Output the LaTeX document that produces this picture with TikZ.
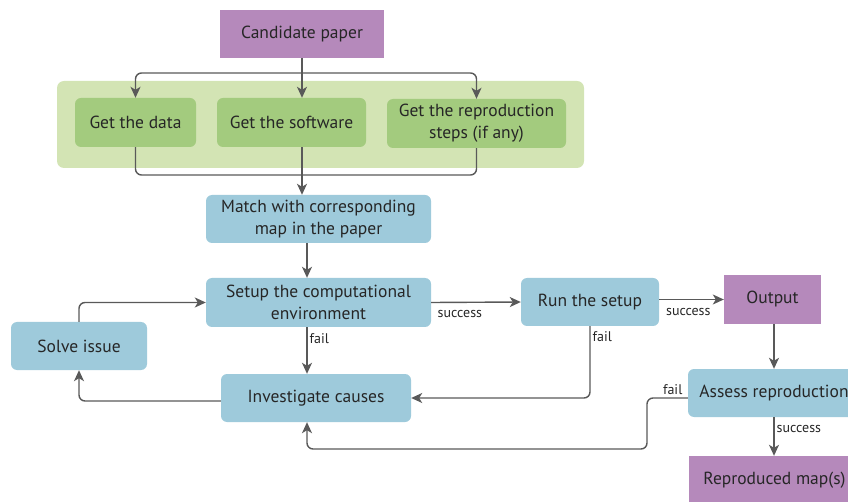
\documentclass[tikz,border=0pt]{standalone}
\usepackage{fontspec}
\setmainfont{PT Sans}
\usetikzlibrary{arrows.meta,calc}
\definecolor{purp}{HTML}{B589BB}
\definecolor{bggreen}{HTML}{D3E4B4}
\definecolor{boxgreen}{HTML}{A3CB7E}
\definecolor{boxblue}{HTML}{9ECADB}
\definecolor{linegray}{HTML}{595959}
\tikzset{
  base/.style={inner sep=0pt, align=center, font=\fontsize{17.5}{22}\selectfont, text=black!85},
  purpbox/.style={base, fill=purp},
  greenbox/.style={base, fill=boxgreen, rounded corners=6pt},
  bluebox/.style={base, fill=boxblue, rounded corners=6pt},
  conn/.style={draw=linegray, line width=1.4pt, rounded corners=6pt},
  arr/.style={conn, -{Stealth[length=11pt,width=10pt,inset=3pt]}},
  lbl/.style={font=\fontsize{14}{16}\selectfont, text=black!85, inner sep=2pt},
}
\begin{document}
\begin{tikzpicture}[x=1pt,y=-1pt]
\useasboundingbox (0,0) rectangle (848,502);
\fill[bggreen, rounded corners=7pt] (57,81) rectangle (584,168);
\node[purpbox, minimum width=164pt, minimum height=48pt] (cand) at (302,34) {Candidate paper};
\node[greenbox, minimum width=121pt, minimum height=49pt] (data) at (135.5,122.5) {Get the data};
\node[greenbox, minimum width=149pt, minimum height=49pt] (soft) at (291.5,122.5) {Get the software};
\node[greenbox, minimum width=179pt, minimum height=49pt] (repro) at (476.5,123.5) {Get the reproduction\\steps (if any)};
\node[bluebox, minimum width=225pt, minimum height=48pt] (match) at (318.5,219) {Match with corresponding\\map in the paper};
\node[bluebox, minimum width=225pt, minimum height=49pt] (setup) at (318.5,302.5) {Setup the computational\\environment};
\node[bluebox, minimum width=136pt, minimum height=48pt] (solve) at (79,346) {Solve issue};
\node[bluebox, minimum width=190pt, minimum height=48pt] (inv) at (316,398) {Investigate causes};
\node[bluebox, minimum width=138pt, minimum height=48pt] (run) at (590,302) {Run the setup};
\node[purpbox, minimum width=97pt, minimum height=49pt] (out) at (772.5,299.5) {Output};
\node[bluebox, minimum width=172pt, minimum height=48pt] (assess) at (774,393) {Assess reproduction};
\node[purpbox, minimum width=171pt, minimum height=49pt] (repmap) at (774.5,480.5) {Reproduced map(s)};
\coordinate (split) at (302,73);
\coordinate (merge) at (302,175);
\coordinate (col) at (307,0);
\coordinate (k1) at (647,398);
\coordinate (k2) at (647,449);
% top split
\draw[arr] (cand.south) -- (split |- soft.north);
\draw[arr] (split) -| (data.north);
\draw[arr] (split) -| (repro.north);
% merge
\draw[conn] (data.south) |- (merge) -| (repro.south);
\draw[arr] (split |- soft.south) -- (split |- match.north);
\draw[arr] (col |- match.south) -- (col |- setup.north);
\draw[arr] (col |- setup.south) -- node[lbl, right, pos=0.24] {fail} (col |- inv.north);
\draw[arr] (setup.east) -- node[lbl, below=5pt, pos=0.32] {success} (run.west);
\draw[arr] (run.east |- out.west) -- node[lbl, below=6pt, pos=0.45] {success} (out.west);
\draw[arr] (assess.north |- out.south) -- (assess.north);
\draw[arr] (assess.south) -- node[lbl, right, pos=0.3] {success} (assess.south |- repmap.north);
\draw[arr] (run.south) |- node[lbl, right, pos=0.075] {fail} (inv.east);
\draw[arr] (assess.west |- inv.east) -- node[lbl, above=1pt, pos=0.37] {fail} (k1) -- (k2) -| (col |- inv.south);
\draw[arr] ([yshift=-3pt]inv.west) -| (solve.south);
\draw[arr] (solve.north) |- (setup.west);
\end{tikzpicture}
\end{document}
